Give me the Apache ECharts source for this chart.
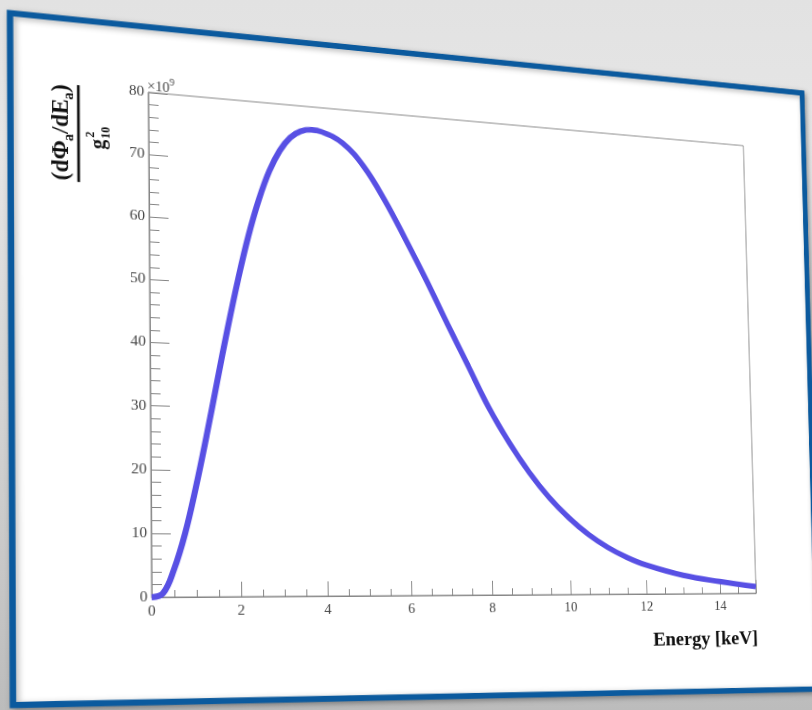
<!DOCTYPE html>
<html>
<head>
<meta charset="utf-8">
<script src="https://cdn.jsdelivr.net/npm/echarts@6/dist/echarts.min.js"></script>
<style>
html,body{margin:0;padding:0;width:812px;height:710px;overflow:hidden;
  background:linear-gradient(to bottom,#e2e2e2 0%,#e6e6e6 20%,#d2d2d2 60%,#bcbcbc 100%);}
#chart{position:absolute;left:0;top:0;width:1000px;height:800px;transform-origin:0 0;}
</style>
</head>
<body>
<div id="chart"></div>
<script>
// ---- data (Energy in keV, flux in units of 1e9) ----
const energy = [0, 0.25, 0.5, 0.75, 1.0, 1.25, 1.5, 1.75, 2.0, 2.25, 2.5, 2.75, 3.0, 3.25, 3.5, 3.75, 4.0, 4.5, 5.0, 5.5, 6.0, 6.5, 7.0, 7.5, 8.0, 8.5, 9.0, 9.5, 10.0, 10.5, 11.0, 11.5, 12.0, 13.0, 14.0, 15.0];
const flux   = [0, 0.6, 4.4, 10.0, 17.3, 25.5, 34.2, 42.8, 50.8, 58.0, 64.0, 68.8, 72.3, 74.6, 75.8, 76.2, 76.0, 74.4, 70.8, 65.4, 59.0, 52.3, 45.2, 38.3, 31.4, 25.6, 20.6, 16.4, 13.0, 10.2, 8.0, 6.3, 5.0, 3.2, 2.1, 1.2];
const xRange = [0, 15];
const yRange = [0, 80];
const xStep = 2;
const yStep = 10;
const xTitle = 'Energy [keV]';
const yExponent = '9';

// ---- perspective (photo of a slide) ----
const FRAME = {l:150, t:92, r:810, b:597};            // un-distorted plot frame
const FRAME_SCREEN = [[148.3,92.3],[743.3,145.7],[756,593.3],[151.7,597.3]];
const PANEL_SCREEN = [[10,13],[802,93],[818,689],[13,705]];

function solve(A,b){
  const n=b.length;
  A=A.map((r,i)=>r.concat([b[i]]));
  for(let c=0;c<n;c++){
    let p=c;
    for(let r=c+1;r<n;r++) if(Math.abs(A[r][c])>Math.abs(A[p][c])) p=r;
    const tmp=A[c];A[c]=A[p];A[p]=tmp;
    for(let r=0;r<n;r++){
      if(r===c) continue;
      const f=A[r][c]/A[c][c];
      for(let k=c;k<=n;k++) A[r][k]-=f*A[c][k];
    }
  }
  return A.map((row,i)=>row[n]/row[i]);
}
function homography(src,dst){
  const A=[],b=[];
  for(let i=0;i<4;i++){
    const x=src[i][0],y=src[i][1],u=dst[i][0],v=dst[i][1];
    A.push([x,y,1,0,0,0,-x*u,-y*u]);b.push(u);
    A.push([0,0,0,x,y,1,-x*v,-y*v]);b.push(v);
  }
  const h=solve(A,b);
  return [[h[0],h[1],h[2]],[h[3],h[4],h[5]],[h[6],h[7],1]];
}
function inv3(m){
  const [a,b,c]=m[0],[d,e,f]=m[1],[g,h,i]=m[2];
  const A=e*i-f*h,B=-(d*i-f*g),C=d*h-e*g;
  const det=a*A+b*B+c*C;
  return [[A/det,-(b*i-c*h)/det,(b*f-c*e)/det],
          [B/det,(a*i-c*g)/det,-(a*f-c*d)/det],
          [C/det,-(a*h-b*g)/det,(a*e-b*d)/det]];
}
function apply(m,p){
  const x=p[0],y=p[1];
  const w=m[2][0]*x+m[2][1]*y+m[2][2];
  return [(m[0][0]*x+m[0][1]*y+m[0][2])/w,(m[1][0]*x+m[1][1]*y+m[1][2])/w];
}
const H = homography([[FRAME.l,FRAME.t],[FRAME.r,FRAME.t],[FRAME.r,FRAME.b],[FRAME.l,FRAME.b]], FRAME_SCREEN);
const Hi = inv3(H);
const toDiv = p => apply(Hi,p);

const el=document.getElementById('chart');
el.style.transform='matrix3d('+[H[0][0],H[1][0],0,H[2][0], H[0][1],H[1][1],0,H[2][1], 0,0,1,0, H[0][2],H[1][2],0,H[2][2]].join(',')+')';

const panel = PANEL_SCREEN.map(toDiv);
const xTitlePos = toDiv([758,639]);
const yTitlePos = toDiv([78.5,133.5]);
const SERIF = "'Liberation Serif','DejaVu Serif','Times New Roman',serif";
const AX = '#858585';

const chart = echarts.init(el, null, {renderer:'canvas', width:1000, height:800});
chart.setOption({
  backgroundColor:'transparent',
  animation:false,
  grid:{left:FRAME.l, top:FRAME.t, width:FRAME.r-FRAME.l, height:FRAME.b-FRAME.t,
        show:true, borderColor:AX, borderWidth:1, backgroundColor:'transparent'},
  xAxis:{type:'value', min:xRange[0], max:xRange[1], interval:xStep,
    axisLine:{show:true, onZero:false, lineStyle:{color:AX, width:1}},
    axisTick:{show:true, inside:true, length:15, lineStyle:{color:AX, width:1}},
    minorTick:{show:true, splitNumber:4, length:7, lineStyle:{color:AX, width:1}},
    splitLine:{show:false},
    axisLabel:{color:'#454545', fontFamily:SERIF, fontSize:15, margin:7, showMaxLabel:false}
  },
  yAxis:{type:'value', min:yRange[0], max:yRange[1], interval:yStep,
    axisLine:{show:true, onZero:false, lineStyle:{color:AX, width:1}},
    axisTick:{show:true, inside:true, length:19, lineStyle:{color:AX, width:1}},
    minorTick:{show:true, splitNumber:5, length:10, lineStyle:{color:AX, width:1}},
    splitLine:{show:false},
    axisLabel:{color:'#454545', fontFamily:SERIF, fontSize:15, margin:4}
  },
  series:[{
    type:'line', data:energy.map((e,i)=>[e,flux[i]]), showSymbol:false, smooth:0.4,
    lineStyle:{color:'#5850e4', width:6}, z:5
  }],
  graphic:[
    {type:'polygon', z:-100, silent:true,
      shape:{points:panel},
      style:{fill:'#ffffff', stroke:'#0b5a9e', lineWidth:6,
             shadowBlur:6, shadowColor:'rgba(0,0,0,0.3)', shadowOffsetX:2, shadowOffsetY:2}},
    {type:'text', x:FRAME.l-1, y:FRAME.t+1, z:10,
      style:{text:'{a|×10}{b|'+yExponent+'}', align:'left', verticalAlign:'bottom',
        rich:{a:{fontFamily:SERIF, fontSize:14, fill:'#454545', lineHeight:18, verticalAlign:'bottom'},
              b:{fontFamily:SERIF, fontSize:10, fill:'#454545', lineHeight:18, verticalAlign:'top'}}}},
    {type:'text', x:xTitlePos[0], y:xTitlePos[1], z:10,
      style:{text:xTitle, fontFamily:SERIF, fontSize:22, fontWeight:'bold', fill:'#111',
             align:'right', verticalAlign:'middle'}},
    {type:'group', x:yTitlePos[0], y:yTitlePos[1], rotation:Math.PI/2, z:10,
      children:[
        {type:'text', x:0, y:-16,
          style:{text:'{m|(dΦ}{s|a}{m|/dE}{s|a}{m|)}', align:'center', verticalAlign:'middle',
            rich:{m:{fontFamily:SERIF, fontSize:23, fontWeight:'bold', fill:'#111', lineHeight:28, verticalAlign:'middle'},
                  s:{fontFamily:SERIF, fontSize:14, fontWeight:'bold', fill:'#111', lineHeight:28, verticalAlign:'bottom'}}}},
        {type:'rect', shape:{x:-48.5, y:-1.3, width:97, height:2.6}, style:{fill:'#111'}},
        {type:'text', x:-4, y:20,
          style:{text:'g', fontFamily:SERIF, fontSize:20, fontWeight:'bold', fill:'#111', align:'right', verticalAlign:'middle'}},
        {type:'text', x:-3, y:12,
          style:{text:'2', fontFamily:SERIF, fontSize:12, fontWeight:'bold', fill:'#111', align:'left', verticalAlign:'middle'}},
        {type:'text', x:-3, y:27,
          style:{text:'10', fontFamily:SERIF, fontSize:12, fontWeight:'bold', fill:'#111', align:'left', verticalAlign:'middle'}}
      ]}
  ]
});
</script>
</body>
</html>
